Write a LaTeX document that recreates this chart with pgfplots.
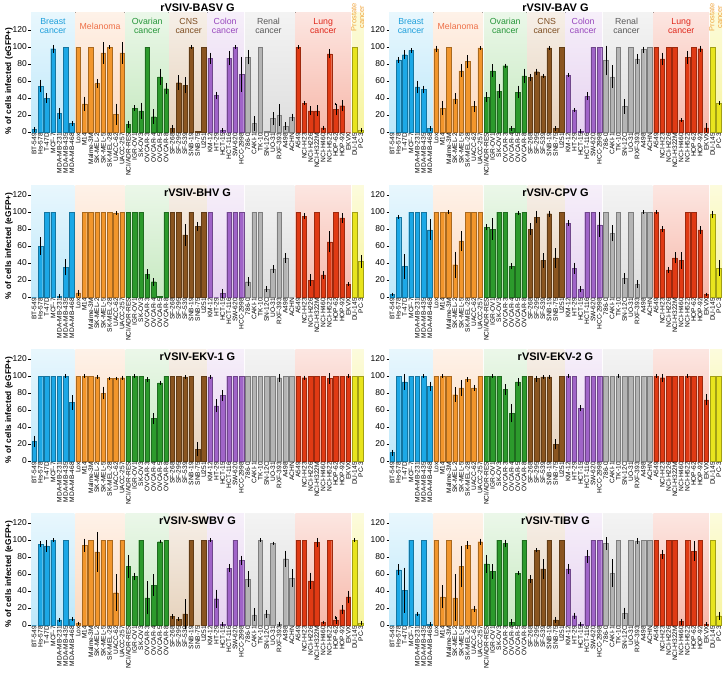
\documentclass[border=0pt]{standalone}
\usepackage{fontspec}
\setmainfont{Liberation Sans}
\usepackage{pgfplots}
\usepackage{pgfplotstable}
\pgfplotsset{compat=1.18}

\definecolor{cBr}{HTML}{1CA8E6}
\definecolor{cMe}{HTML}{F2962C}
\definecolor{cOv}{HTML}{2C9A2C}
\definecolor{cCn}{HTML}{8A5520}
\definecolor{cCo}{HTML}{A064C8}
\definecolor{cRe}{HTML}{B4B4B4}
\definecolor{cLu}{HTML}{E03A14}
\definecolor{cPr}{HTML}{E8E41E}
\definecolor{bBr}{HTML}{BEE8FA}
\definecolor{bMe}{HTML}{FCD9BE}
\definecolor{bOv}{HTML}{C6E9C0}
\definecolor{bCn}{HTML}{E6D2BC}
\definecolor{bCo}{HTML}{E6D2F0}
\definecolor{bRe}{HTML}{DEDEDE}
\definecolor{bLu}{HTML}{F7B8AA}
\definecolor{bPr}{HTML}{F7F49C}
\definecolor{lBr}{HTML}{1E9FDB}
\definecolor{lMe}{HTML}{EE7048}
\definecolor{lOv}{HTML}{26963A}
\definecolor{lCn}{HTML}{7E4E22}
\definecolor{lCo}{HTML}{9848BE}
\definecolor{lRe}{HTML}{5A5A5A}
\definecolor{lLu}{HTML}{E0281C}
\definecolor{lPr}{HTML}{F0A640}

\pgfplotstableread{
y e
3 1
54 6
40 4
98 3
22 5
100 0
10 1
100 0
33 7
100 0
57 4
93 11
100 0.5
21 11
93 11
9 3
28 2
25 8
100 0
18 7
65 8
51 5
4 3
58 7
55 8
100 0.5
0.5 0
100 0
87 5
43 3
2 1
87 7
100 0.5
68 19
88 7
10 7
100 0
0.5 0
16 6
20 11
7 3
17 3
100 0.5
34 1
25 4
25 5
5 1
92 4
27 6
31 5
0 0
100 0
2 1
}\tBASV

\pgfplotstableread{
y e
0 0
85 2
91 4
96 1
53 6
50 3
4 1
98 2
28 7
100 0
39 5
72 6
83 6
30 5
99 0.5
41 4
72 6
48 7
78 1
4 1
47 6
66 7
64 3
71 2
66 1
99 0.5
4 1
100 0
67 1
26 0.5
1 0.5
42 3
100 0
100 0
84 16
65 12
100 0
30 7
100 0
86 4
97 2
100 0
100 0
86 6
100 0
100 0
14 0.5
88 6
100 0
98 2
5 4
100 0
34 1
}\tBAV

\pgfplotstableread{
y e
0 0
60 9
100 0
100 0
1 0.5
35 8
100 0
5 2
100 0
100 0
100 0
100 0
100 0
99 0.5
100 0
100 0
100 0
100 0
27 4
18 3
0.5 0
100 0
100 0
100 0
73 11
100 0
83 4
100 0
100 0
0 0
4 4
100 0
100 0
100 0
18 4
100 0
100 0
9 2
33 3
100 0
46 4
0 0
100 0
95 2
20 5
100 0
26 3
65 11
100 0
93 4
15 1
100 0
42 6
}\tBHV

\pgfplotstableread{
y e
3 0.5
94 1
36 13
100 0
100 0
100 0
79 11
100 0
100 0
100 0.5
38 14
66 10
100 0
100 0
100 0
82 2
80 11
100 0
100 0
36 2
99 0.5
100 0
80 5
94 6
43 7
98 2
46 10
100 0
87 2
34 5
9 2
100 0
100 0
85 13
100 0
75 8
100 0
22 5
100 0
15 3
100 0.5
100 0
100 0.5
80 2
32 2
46 5
43 8
100 0
100 0
79 3
3 0.5
97 3
34 8
}\tCPV

\pgfplotstableread{
y e
23 5
100 0
100 0
100 0
100 0
100 0.5
69 7
100 0
100 0.5
100 0
99 0.5
80 6
97 0.5
97 0.5
98 1
100 0
100 0.5
100 0
96 1
50 5
92 1
100 0
100 0
100 0
99 0.5
100 0
14 7
100 0
99 0.5
65 6
77 5
100 0
100 0
100 0
100 0
100 0
100 0
100 0
100 0
98 3
100 0
100 0
100 0
98 1
100 0
100 0
100 0
97 5
100 0
100 0
100 0.5
100 0
100 0
}\tEKVa

\pgfplotstableread{
y e
10 2
100 0
93 8
100 0
100 0
100 0.5
88 4
100 0
100 0.5
100 0
78 7
86 8
96 1
86 2
100 0
100 0
100 0.5
100 0
84 5
56 9
93 3
100 0
100 0
97 2
99 0.5
99 0.5
20 4
100 0
100 0.5
100 0
62 2
100 0
100 0
100 0
100 0
100 0
100 0.5
100 0
100 0
100 0
100 0
100 0
100 0.5
98 3
100 0
100 0
100 0
100 0.5
100 0
100 0
72 5
100 0
100 0
}\tEKVb

\pgfplotstableread{
y e
0 0
95 2
93 5
100 0.5
6 1
100 0
7 1
2 0.5
94 6
100 0
86 22
100 0
100 0
38 20
100 0
69 12
57 3
100 0
32 18
47 11
98 0.5
100 0
10 1
7 0.5
13 16
100 0
0 0
100 0
100 0.5
31 9
1 0.5
67 3
100 0
76 4
54 8
12 6
100 0.5
13 3
96 0.5
1 0.5
78 8
55 9
100 0
100 0
52 8
97 4
3 0.5
100 0
6 3
18 4
33 6
100 0.5
2 1
}\tSWBV

\pgfplotstableread{
y e
0 0
65 5
41 25
100 0
13 0.5
100 0
1 0.5
100 0
33 12
100 0
32 26
69 23
94 3
19 2
98 2
72 9
63 7
100 0
96 3
3 2
61 1
100 0
54 3
88 1
66 10
100 0
6 2
100 0
66 4
11 2
1 0.5
81 6
100 0
100 0
96 6
61 15
100 0
14 5
100 0
99 2
100 0
100 0
100 0
83 4
100 0
100 0
4 2
100 0
87 10
100 0
1 0.5
100 0
11 3
}\tTIBV

\pgfplotsset{
  panel/.style={
    scale only axis, width=333bp, height=102bp, anchor=south west,
    xmin=-0.5, xmax=52.5, ymin=0, ymax=120, clip=false,
    axis y line*=left, axis x line*=bottom,
    x axis line style={draw=none},
    y axis line style={line width=0.6pt},
    xtick={0,...,52},
    xticklabels={BT-549,Hs-578,T-47D,MCF-7,MDA-MB-231,MDA-MB-435,MDA-MB-468,
      Lox,M14,Malme-3M,SK-MEL-2,SK-MEL-5,SK-MEL-28,UACC-62,UACC-257,
      NCI/ADR-RES,IGR-OV1,SK-OV3,OVCAR-3,OVCAR-4,OVCAR-5,OVCAR-8,
      SF-268,SF-295,SF-539,SNB-19,SNB-75,U251,
      KM-12,HT-29,HCT-15,HCT-116,SW-620,HCC-2998,
      786-0,CAKI-1,TK-10,SN-12C,UO-31,RXF-393,A498,ACHN,
      A549,NCI-H23,NCI-H226,NCI-H322M,NCI-H460,NCI-H522,HOP-62,HOP-92,EKVX,
      DU-145,PC-3},
    xtick style={draw=none},
    xticklabel style={rotate=90, anchor=east, font=\fontsize{6.6}{7}\selectfont, inner sep=1pt},
    ytick={0,20,...,120}, ytick align=outside, major tick length=2.5bp,
    ytick style={line width=0.6pt, black},
    yticklabel style={font=\fontsize{8.5}{9}\selectfont, inner sep=1.5pt},
    /pgf/number format/assume math mode=true,
    title style={font=\bfseries\fontsize{11}{12}\selectfont, at={(0.5,1)}, anchor=center},
  },
  ylab/.style={ylabel={\bfseries \% of cells infected (eGFP+)},
    ylabel style={font=\fontsize{8.3}{9}\selectfont, at={(axis description cs:-0.066,0.5)}, anchor=center, rotate=0}},
}

\newcommand\grp[4]{\addplot[ybar, bar width=0.72, bar shift=0pt, fill=#4, draw=#4!70!black, line width=0.3pt,
  restrict x to domain=#2:#3] table[x expr=\lineno, y=y] {#1};}

\newcommand\band[4]{\fill[top color=#4!35!white, bottom color=#4] (axis cs:#1,0) rectangle (axis cs:#2,#3);}

\newcommand\bands[1]{%
  \band{-0.5}{6.42}{#1}{bBr}
  \band{6.58}{14.42}{#1}{bMe}
  \band{14.58}{21.42}{#1}{bOv}
  \band{21.58}{27.42}{#1}{bCn}
  \band{27.58}{33.42}{#1}{bCo}
  \band{33.58}{41.42}{#1}{bRe}
  \band{41.58}{50.42}{#1}{bLu}
  \band{50.58}{52.5}{#1}{bPr}}

\newcommand\glabels{%
  \node[align=center, text=lBr, font=\fontsize{8.8}{9}\selectfont] at (axis cs:3,124.7) {Breast\\cancer};
  \node[align=center, text=lMe, font=\fontsize{8.8}{9}\selectfont] at (axis cs:10.5,124.7) {Melanoma};
  \node[align=center, text=lOv, font=\fontsize{8.8}{9}\selectfont] at (axis cs:18,124.7) {Ovarian\\cancer};
  \node[align=center, text=lCn, font=\fontsize{8.8}{9}\selectfont] at (axis cs:24.6,124.7) {CNS\\cancer};
  \node[align=center, text=lCo, font=\fontsize{8.8}{9}\selectfont] at (axis cs:30.4,124.7) {Colon\\cancer};
  \node[align=center, text=lRe, font=\fontsize{8.8}{9}\selectfont] at (axis cs:37.3,124.7) {Renal\\cancer};
  \node[align=center, text=lLu, font=\fontsize{8.8}{9}\selectfont] at (axis cs:46,124.7) {Lung\\cancer};
  \node[align=center, rotate=90, text=lPr, font=\fontsize{7.5}{8}\selectfont] at (axis cs:51.5,135) {Prostate\\cancer};}

\newcommand\panel[6]{%
\begin{axis}[panel, at={(#1,#2)}, #5]
  \bands{#4}
  \grp{#3}{0}{6}{cBr}
  \grp{#3}{7}{14}{cMe}
  \grp{#3}{15}{21}{cOv}
  \grp{#3}{22}{27}{cCn}
  \grp{#3}{28}{33}{cCo}
  \grp{#3}{34}{41}{cRe}
  \grp{#3}{42}{50}{cLu}
  \grp{#3}{51}{52}{cPr}
  \addplot[draw=none, mark=none, restrict expr to domain={\thisrow{e}}{0.01:1000},
    error bars/.cd, y dir=both, y explicit,
    error bar style={draw=black, line width=0.45pt},
    error mark options={draw=black, line width=0.45pt, mark size=1.3pt}]
    table[x expr=\lineno, y=y, y error=e] {#3};
  #6
\end{axis}}

\begin{document}
\begin{tikzpicture}
\panel{31bp}{-132bp}{\tBASV}{141}{ylab, title={rVSIV-BASV G}, title style={yshift=16bp}}{\glabels}
\panel{389bp}{-132bp}{\tBAV}{141}{title={rVSIV-BAV G}, title style={yshift=16bp}}{\glabels}
\panel{31bp}{-297bp}{\tBHV}{131}{ylab, title={rVSIV-BHV G}, title style={yshift=-4bp}}{}
\panel{389bp}{-297bp}{\tCPV}{131}{title={rVSIV-CPV G}, title style={yshift=-4bp}}{}
\panel{31bp}{-461bp}{\tEKVa}{131}{ylab, title={rVSIV-EKV-1 G}, title style={yshift=-4bp}}{}
\panel{389bp}{-461bp}{\tEKVb}{131}{title={rVSIV-EKV-2 G}, title style={yshift=-4bp}}{}
\panel{31bp}{-625bp}{\tSWBV}{131}{ylab, title={rVSIV-SWBV G}, title style={yshift=-4bp}}{}
\panel{389bp}{-625bp}{\tTIBV}{131}{title={rVSIV-TIBV G}, title style={yshift=-4bp}}{}
\pgfresetboundingbox
\path[use as bounding box] (0,0) rectangle (726bp,-674bp);
\end{tikzpicture}
\end{document}
